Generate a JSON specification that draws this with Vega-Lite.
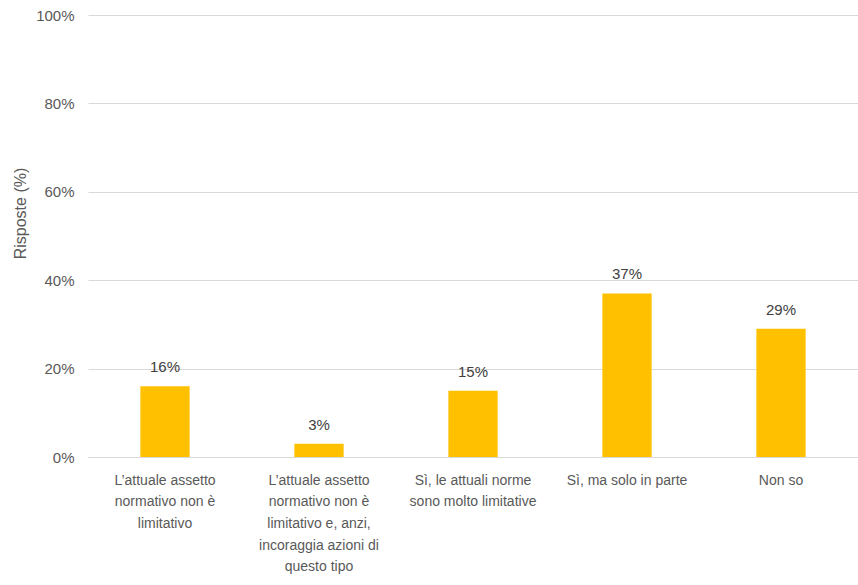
{
  "$schema": "https://vega.github.io/schema/vega-lite/v6.json",
  "autosize": {"type": "none"},
  "padding": {"left": 88, "top": 15, "right": 0, "bottom": 128},
  "width": 770,
  "height": 442,
  "background": "white",
  "config": {
    "view": {"stroke": null},
    "font": "Liberation Sans",
    "axis": {"labelFont": "Liberation Sans", "titleFont": "Liberation Sans"}
  },
  "data": {
    "values": [
      {"risposta": "L’attuale assetto\nnormativo non è\nlimitativo", "valore": 0.16},
      {"risposta": "L’attuale assetto\nnormativo non è\nlimitativo e, anzi,\nincoraggia azioni di\nquesto tipo", "valore": 0.03},
      {"risposta": "Sì, le attuali norme\nsono molto limitative", "valore": 0.15},
      {"risposta": "Sì, ma solo in parte", "valore": 0.37},
      {"risposta": "Non so", "valore": 0.29}
    ]
  },
  "encoding": {
    "x": {
      "field": "risposta",
      "type": "nominal",
      "sort": null,
      "scale": {"paddingInner": 0.68, "paddingOuter": 0.34},
      "axis": {
        "title": null,
        "labelAngle": 0,
        "labelExpr": "split(datum.label, '\\n')",
        "labelFontSize": 14,
        "labelColor": "#595959",
        "labelLineHeight": 21.7,
        "labelPadding": 16,
        "labelBaseline": "top",
        "ticks": false,
        "domainColor": "#d9d9d9",
        "domainWidth": 1,
        "labelLimit": 0
      }
    },
    "y": {
      "field": "valore",
      "type": "quantitative",
      "scale": {"domain": [0, 1]},
      "axis": {
        "title": "Risposte (%)",
        "format": ".0%",
        "values": [0, 0.2, 0.4, 0.6, 0.8, 1],
        "labelFontSize": 15,
        "labelColor": "#595959",
        "labelPadding": 14,
        "ticks": false,
        "domain": false,
        "gridColor": "#d9d9d9",
        "gridWidth": 1,
        "titleFontSize": 16,
        "titleFontWeight": "normal",
        "titleColor": "#595959",
        "titleX": -68,
        "titleY": 198,
        "titleAngle": -90,
        "titleAlign": "center",
        "titleBaseline": "middle"
      }
    }
  },
  "layer": [
    {"mark": {"type": "bar", "color": "#FFC000"}},
    {
      "mark": {"type": "text", "dy": -19, "baseline": "middle", "fontSize": 15, "color": "#404040"},
      "encoding": {"text": {"field": "valore", "type": "quantitative", "format": ".0%"}}
    }
  ]
}
